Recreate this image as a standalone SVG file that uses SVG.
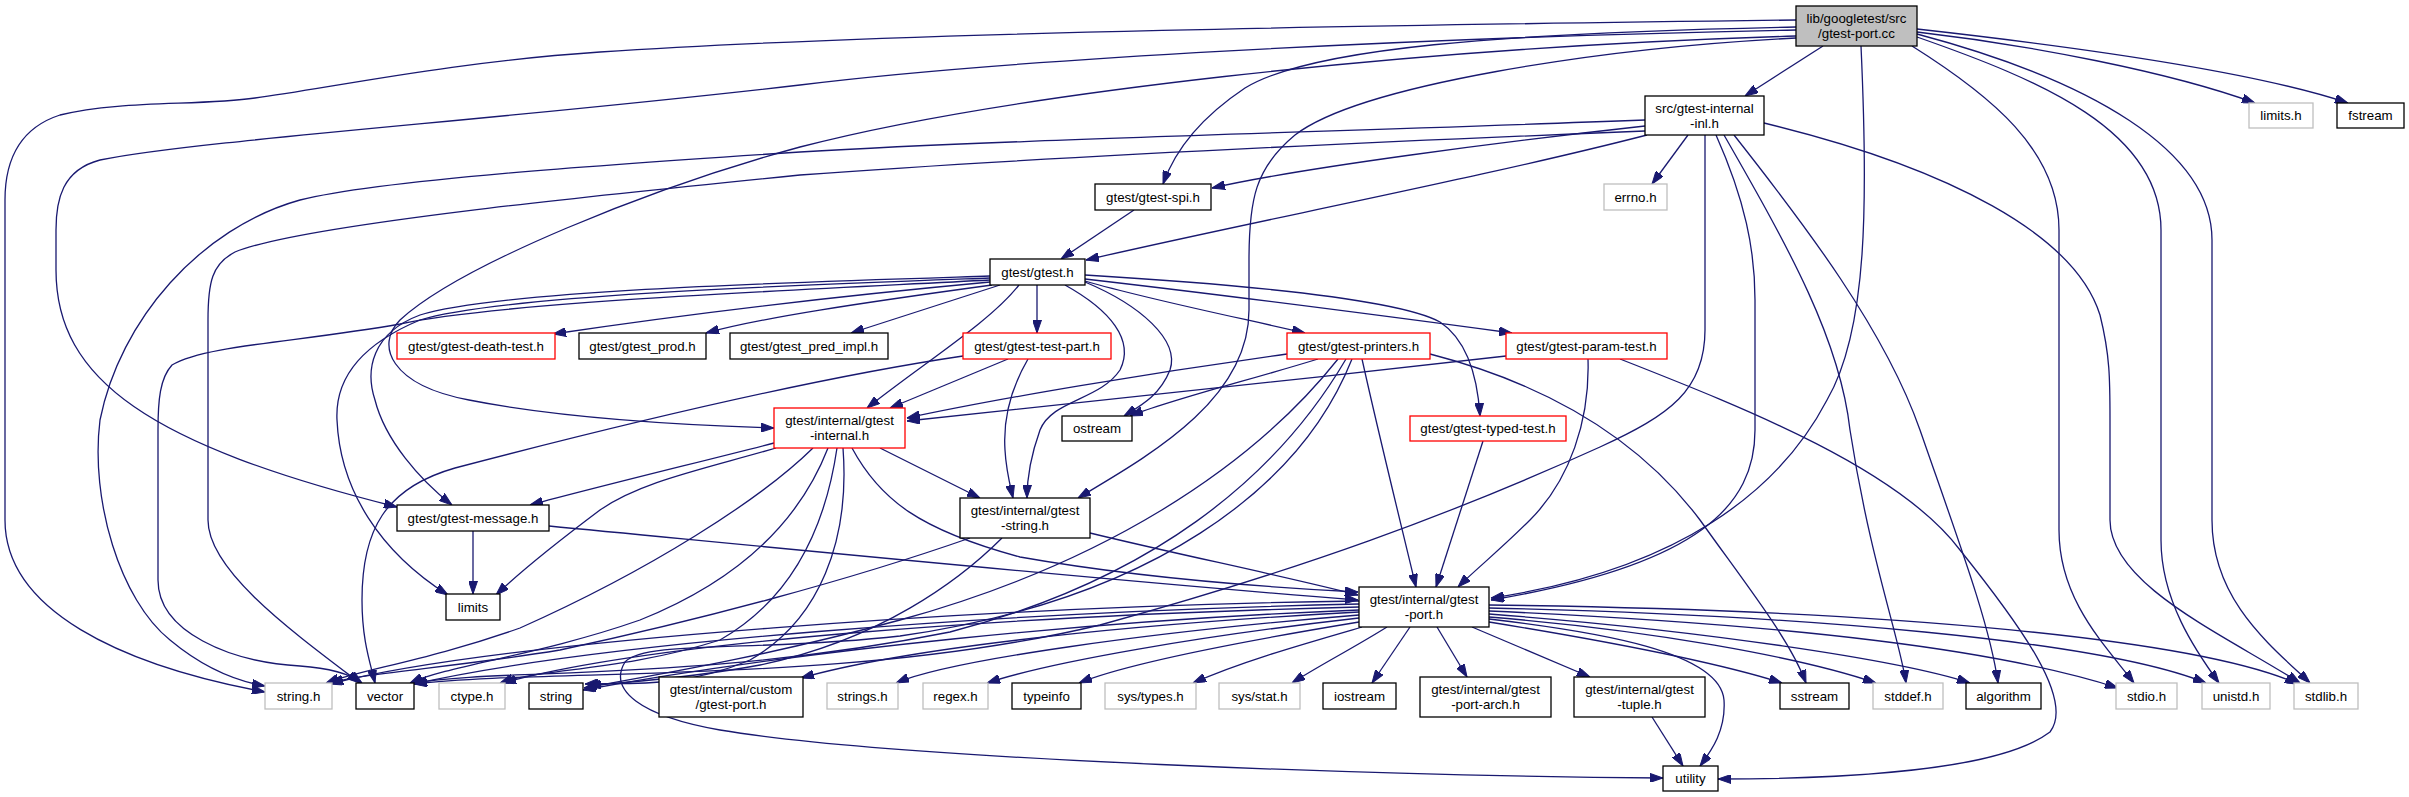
<svg xmlns="http://www.w3.org/2000/svg" width="2409" height="797" viewBox="0 0 2409 797">
<style>
rect{fill:#fff;stroke:#000;stroke-width:1.3}
.g rect{stroke:#bfbfbf}
.r rect{stroke:#ff0000}
.m rect{fill:#bfbfbf}
text{font-family:"Liberation Sans",Arial,sans-serif;font-size:13.3px;fill:#000;text-anchor:middle}
#edges path{fill:none;stroke:#191970;stroke-width:1.3;marker-end:url(#ah)}
</style>
<defs>
<marker id="ah" viewBox="0 0 13 9" refX="13" refY="4.5" markerWidth="13" markerHeight="9" orient="auto" markerUnits="userSpaceOnUse"><path d="M0,0 L13,4.5 L0,9 z" fill="#191970" stroke="#191970" stroke-width="1"/></marker>
</defs>
<rect x="0" y="0" width="2409" height="797" style="fill:#fff;stroke:none"/>
<g id="edges">
<path d="M1823,46 L1745,96"/>
<path d="M1917,32 C2030,45 2170,72 2255,103"/>
<path d="M1917,29 C2060,45 2250,70 2348,103"/>
<path d="M1912,46 C1990,95 2059,150 2059,230 L2059,530 C2059,600 2105,645 2134,683"/>
<path d="M1917,37 C2040,80 2161,130 2161,230 L2161,540 C2161,600 2195,650 2219,683"/>
<path d="M1917,34 C2090,80 2212,150 2212,240 L2212,520 C2212,600 2270,645 2310,683"/>
<path d="M1861,46 C1868,200 1868,330 1827,400 C1780,490 1680,570 1491,598"/>
<path d="M1796,27 C1500,33 1310,48 1245,88 C1200,118 1175,150 1163,184"/>
<path d="M1796,38 C1600,48 1360,85 1295,135 C1255,168 1249,200 1249,260 L1249,310 C1249,400 1150,455 1078,498"/>
<path d="M1796,20 C1400,25 900,32 600,52 C450,62 330,88 255,98 C200,106 120,100 60,115 C20,128 5,160 5,200 L5,520 C5,610 120,665 265,692"/>
<path d="M1796,30 C1400,38 1000,60 800,85 C500,120 200,140 100,160 C62,170 56,200 56,230 L56,270 C56,380 150,445 397,507"/>
<path d="M1796,36 C1400,48 1000,95 800,147 C650,188 460,265 400,320 C375,345 390,385 469,400 C560,418 680,425 774,428"/>
<path d="M1688,135 L1652,184"/>
<path d="M1645,126 C1500,142 1300,168 1212,188"/>
<path d="M1647,135 C1480,178 1250,222 1086,260"/>
<path d="M1645,120 C1300,133 1000,140 800,152 C600,165 380,180 300,200 C200,228 120,320 100,420 C90,500 120,600 170,640 C200,665 230,680 265,686"/>
<path d="M1645,131 C1300,145 1000,160 800,175 C600,195 300,225 235,252 C212,264 208,282 208,320 L208,520 C208,570 290,630 360,683"/>
<path d="M1705,135 L1705,330 C1705,390 1670,415 1600,447 C1450,515 1300,570 1100,625 C850,685 550,668 414,684"/>
<path d="M1764,123 C1950,168 2075,235 2100,315 C2110,355 2110,380 2110,420 L2110,520 C2110,585 2225,635 2300,683"/>
<path d="M1716,135 C1745,200 1755,250 1755,300 L1755,430 C1755,505 1700,565 1491,600"/>
<path d="M1724,135 C1790,250 1840,340 1850,430 C1870,560 1900,640 1906,683"/>
<path d="M1734,135 C1805,225 1885,330 1920,430 C1960,545 1990,625 1998,683"/>
<path d="M1134,210 L1061,259"/>
<path d="M990,282 C850,295 700,312 553,334"/>
<path d="M992,285 C860,303 760,318 706,333"/>
<path d="M1000,285 L851,333"/>
<path d="M1019,285 C990,322 925,362 867,408"/>
<path d="M1037,285 L1037,333"/>
<path d="M1065,285 C1110,310 1135,340 1120,370 C1100,400 1052,400 1040,430 C1030,458 1027,478 1027,498"/>
<path d="M1085,282 C1140,305 1180,340 1170,370 C1160,395 1142,405 1124,416"/>
<path d="M1085,281 C1150,300 1250,320 1305,333"/>
<path d="M1085,279 C1250,298 1400,318 1512,333"/>
<path d="M1085,275 C1250,285 1400,300 1440,322 C1470,342 1478,385 1480,416"/>
<path d="M990,278 C800,285 500,295 420,320 C360,345 335,380 337,420 C340,490 380,552 448,595"/>
<path d="M990,280 C800,290 500,302 400,324 C300,342 205,345 172,365 C160,378 158,400 158,430 L158,580 C158,632 230,662 300,666 C330,668 350,674 362,683"/>
<path d="M990,276 C800,282 500,290 420,315 C372,333 365,370 375,400 C385,440 420,480 452,505"/>
<path d="M1008,359 L890,408"/>
<path d="M1028,359 C1010,390 1003,420 1005,450 C1006,470 1010,485 1013,498"/>
<path d="M963,356 C800,380 600,430 455,468 C385,488 362,530 362,600 C362,640 370,662 375,683"/>
<path d="M1287,354 C1150,373 1000,398 907,418"/>
<path d="M1318,359 C1250,380 1170,400 1130,416"/>
<path d="M1430,354 C1550,385 1640,440 1700,520 C1750,590 1790,640 1806,683"/>
<path d="M1362,359 C1380,440 1400,520 1416,587"/>
<path d="M1338,359 C1250,470 1100,565 900,620 C760,658 650,676 584,688"/>
<path d="M1346,359 C1275,480 1150,580 950,632 C700,682 500,668 414,683"/>
<path d="M1352,359 C1300,490 1150,600 900,636 C760,652 645,640 625,662 C608,690 640,716 720,730 C900,760 1400,776 1663,778"/>
<path d="M1506,356 C1300,380 1050,405 907,421"/>
<path d="M1588,359 C1590,420 1570,480 1530,520 C1500,550 1475,570 1458,587"/>
<path d="M1620,359 C1750,410 1900,470 1960,550 C2020,625 2075,700 2050,732 C2000,770 1850,779 1718,779"/>
<path d="M1483,441 L1436,587"/>
<path d="M774,443 C700,462 600,486 530,505"/>
<path d="M776,448 C700,470 640,482 600,510 C560,540 520,572 496,595"/>
<path d="M880,448 L980,498"/>
<path d="M852,448 C880,500 920,530 1020,557 C1150,580 1280,588 1358,592"/>
<path d="M813,448 C760,500 650,570 520,628 C430,660 360,670 326,683"/>
<path d="M828,448 C800,520 740,580 640,620 C540,655 450,665 410,683"/>
<path d="M837,448 C825,530 790,600 720,640 C620,672 540,668 500,683"/>
<path d="M843,448 C850,540 820,620 750,660 C680,690 620,682 585,684"/>
<path d="M970,538 C850,580 700,620 560,650 C450,668 370,672 330,683"/>
<path d="M1002,538 C960,580 880,640 760,665 C680,680 620,682 588,686"/>
<path d="M1090,533 C1180,555 1280,575 1358,595"/>
<path d="M473,531 L473,594"/>
<path d="M549,526 C800,550 1100,580 1358,600"/>
<path d="M1359,601 C1000,606 500,640 330,684"/>
<path d="M1359,604 C1000,612 600,642 414,684"/>
<path d="M1359,607 C1000,616 650,642 503,683"/>
<path d="M1359,610 C1100,620 800,650 583,690"/>
<path d="M1359,612 C1100,626 900,650 801,678"/>
<path d="M1359,615 C1150,632 950,660 896,683"/>
<path d="M1359,618 C1200,636 1050,662 987,683"/>
<path d="M1359,622 C1250,640 1130,662 1079,683"/>
<path d="M1362,627 C1300,645 1240,662 1193,683"/>
<path d="M1387,627 C1350,650 1320,665 1292,683"/>
<path d="M1410,627 L1372,683"/>
<path d="M1437,627 L1467,677"/>
<path d="M1472,627 L1590,677"/>
<path d="M1489,622 C1600,640 1710,660 1782,683"/>
<path d="M1489,617 C1650,630 1800,657 1876,683"/>
<path d="M1489,614 C1700,630 1900,660 1970,683"/>
<path d="M1489,611 C1800,625 2000,650 2118,688"/>
<path d="M1489,608 C1800,615 2100,640 2206,683"/>
<path d="M1489,605 C1900,610 2200,640 2298,684"/>
<path d="M1489,619 C1600,632 1720,652 1724,700 C1726,730 1712,750 1700,766"/>
<path d="M1652,717 L1683,766"/>
</g>
<g id="main" class="m"><rect x="1796" y="6" width="121" height="40"/><text x="1856.5" y="22.5">lib/googletest/src</text><text x="1856.5" y="37.5">/gtest-port.cc</text></g>
<g id="inl"><rect x="1645" y="96" width="119" height="39"/><text x="1704.5" y="112.5">src/gtest-internal</text><text x="1704.5" y="127.5">-inl.h</text></g>
<g id="limits_h" class="g"><rect x="2249" y="103" width="64" height="25"/><text x="2281" y="120">limits.h</text></g>
<g id="fstream"><rect x="2337" y="103" width="67" height="25"/><text x="2370.5" y="120">fstream</text></g>
<g id="errno_h" class="g"><rect x="1604" y="184" width="63" height="26"/><text x="1635.5" y="201.5">errno.h</text></g>
<g id="gtest_spi"><rect x="1095" y="184" width="116" height="26"/><text x="1153" y="201.5">gtest/gtest-spi.h</text></g>
<g id="gtest_h"><rect x="990" y="259" width="95" height="26"/><text x="1037.5" y="276.5">gtest/gtest.h</text></g>
<g id="death_test" class="r"><rect x="397" y="333" width="158" height="26"/><text x="476" y="350.5">gtest/gtest-death-test.h</text></g>
<g id="gtest_prod"><rect x="579" y="333" width="127" height="26"/><text x="642.5" y="350.5">gtest/gtest_prod.h</text></g>
<g id="pred_impl"><rect x="730" y="333" width="158" height="26"/><text x="809" y="350.5">gtest/gtest_pred_impl.h</text></g>
<g id="test_part" class="r"><rect x="963" y="333" width="148" height="26"/><text x="1037" y="350.5">gtest/gtest-test-part.h</text></g>
<g id="printers" class="r"><rect x="1287" y="333" width="143" height="26"/><text x="1358.5" y="350.5">gtest/gtest-printers.h</text></g>
<g id="param_test" class="r"><rect x="1506" y="333" width="161" height="26"/><text x="1586.5" y="350.5">gtest/gtest-param-test.h</text></g>
<g id="internal" class="r"><rect x="774" y="408" width="131" height="40"/><text x="839.5" y="424.5">gtest/internal/gtest</text><text x="839.5" y="439.5">-internal.h</text></g>
<g id="ostream"><rect x="1062" y="416" width="70" height="25"/><text x="1097" y="433">ostream</text></g>
<g id="typed_test" class="r"><rect x="1410" y="416" width="156" height="25"/><text x="1488" y="433">gtest/gtest-typed-test.h</text></g>
<g id="message"><rect x="397" y="505" width="152" height="26"/><text x="473" y="522.5">gtest/gtest-message.h</text></g>
<g id="gstring"><rect x="960" y="498" width="130" height="40"/><text x="1025" y="514.5">gtest/internal/gtest</text><text x="1025" y="529.5">-string.h</text></g>
<g id="limits"><rect x="446" y="594" width="54" height="26"/><text x="473" y="611.5">limits</text></g>
<g id="gport"><rect x="1359" y="587" width="130" height="40"/><text x="1424" y="603.5">gtest/internal/gtest</text><text x="1424" y="618.5">-port.h</text></g>
<g id="string_h" class="g"><rect x="265" y="683" width="67" height="26"/><text x="298.5" y="700.5">string.h</text></g>
<g id="vector"><rect x="356" y="683" width="58" height="26"/><text x="385" y="700.5">vector</text></g>
<g id="ctype_h" class="g"><rect x="439" y="683" width="66" height="26"/><text x="472" y="700.5">ctype.h</text></g>
<g id="string"><rect x="529" y="683" width="54" height="26"/><text x="556" y="700.5">string</text></g>
<g id="custom"><rect x="659" y="677" width="144" height="40"/><text x="731" y="693.5">gtest/internal/custom</text><text x="731" y="708.5">/gtest-port.h</text></g>
<g id="strings_h" class="g"><rect x="827" y="683" width="71" height="26"/><text x="862.5" y="700.5">strings.h</text></g>
<g id="regex_h" class="g"><rect x="923" y="683" width="65" height="26"/><text x="955.5" y="700.5">regex.h</text></g>
<g id="typeinfo"><rect x="1012" y="683" width="69" height="26"/><text x="1046.5" y="700.5">typeinfo</text></g>
<g id="sys_types" class="g"><rect x="1105" y="683" width="91" height="26"/><text x="1150.5" y="700.5">sys/types.h</text></g>
<g id="sys_stat" class="g"><rect x="1219" y="683" width="81" height="26"/><text x="1259.5" y="700.5">sys/stat.h</text></g>
<g id="iostream"><rect x="1323" y="683" width="73" height="26"/><text x="1359.5" y="700.5">iostream</text></g>
<g id="port_arch"><rect x="1420" y="677" width="131" height="40"/><text x="1485.5" y="693.5">gtest/internal/gtest</text><text x="1485.5" y="708.5">-port-arch.h</text></g>
<g id="tuple"><rect x="1574" y="677" width="131" height="40"/><text x="1639.5" y="693.5">gtest/internal/gtest</text><text x="1639.5" y="708.5">-tuple.h</text></g>
<g id="sstream"><rect x="1780" y="683" width="69" height="26"/><text x="1814.5" y="700.5">sstream</text></g>
<g id="stddef_h" class="g"><rect x="1873" y="683" width="70" height="26"/><text x="1908" y="700.5">stddef.h</text></g>
<g id="algorithm"><rect x="1966" y="683" width="75" height="26"/><text x="2003.5" y="700.5">algorithm</text></g>
<g id="stdio_h" class="g"><rect x="2116" y="683" width="61" height="26"/><text x="2146.5" y="700.5">stdio.h</text></g>
<g id="unistd_h" class="g"><rect x="2202" y="683" width="68" height="26"/><text x="2236" y="700.5">unistd.h</text></g>
<g id="stdlib_h" class="g"><rect x="2294" y="683" width="64" height="26"/><text x="2326" y="700.5">stdlib.h</text></g>
<g id="utility"><rect x="1663" y="766" width="55" height="25"/><text x="1690.5" y="783">utility</text></g>
</svg>
